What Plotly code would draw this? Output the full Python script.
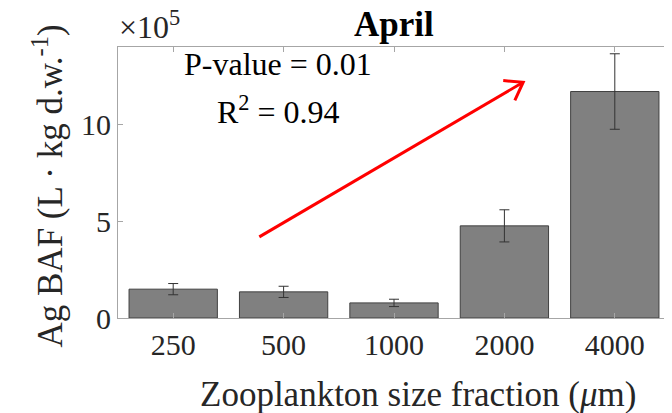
import math
import plotly.graph_objects as go

# ---- data ----
categories = ["250", "500", "1000", "2000", "4000"]
baf_values = [1.49, 1.35, 0.78, 4.76, 11.70]      # x 10^5 L/kg d.w.
baf_errors = [0.29, 0.29, 0.19, 0.83, 1.95]
y_ticks = [0, 5, 10]
arrow_tail = (0.78, 4.19)
arrow_head = (3.17, 12.18)
stats_lines = ["P-value = 0.01", "R<sup>2</sup> = 0.94"]
x_title = "Zooplankton size fraction (<i>μ</i>m)"
y_title = "Ag BAF (L · kg d.w.<sup>-1</sup>)"

FONT = "Liberation Serif, Times New Roman, serif"
# page has an 8px body margin, so figure is slightly smaller than the window
W, H = 664, 405
ML, MR, MT, MB = 110, 2, 39, 95
XR = [-0.5, 4.5]
YR = [0, 14]

xs = list(range(len(categories)))

fig = go.Figure()
fig.add_trace(go.Bar(
    x=xs, y=baf_values, width=0.8,
    marker=dict(color="#808080", line=dict(color="#404040", width=1)),
    error_y=dict(type="data", array=baf_errors, visible=True,
                 color="#333333", thickness=1, width=5),
    showlegend=False,
))

# arrow (line + open V head) computed from named endpoints
pxx = (W - ML - MR) / (XR[1] - XR[0])
pxy = (H - MT - MB) / (YR[1] - YR[0])
dx = (arrow_tail[0] - arrow_head[0]) * pxx
dy = (arrow_tail[1] - arrow_head[1]) * pxy
L = math.hypot(dx, dy)
ux, uy = dx / L, dy / L
arm = 20
pts = []
for ang in (math.radians(35), math.radians(-35)):
    rx = ux * math.cos(ang) - uy * math.sin(ang)
    ry = ux * math.sin(ang) + uy * math.cos(ang)
    pts.append((arrow_head[0] + rx * arm / pxx, arrow_head[1] + ry * arm / pxy))

shapes = [
    dict(type="line", xref="x", yref="y", x0=arrow_tail[0], y0=arrow_tail[1],
         x1=arrow_head[0], y1=arrow_head[1], line=dict(color="#ff0000", width=3)),
    dict(type="path", xref="x", yref="y",
         path=f"M {pts[0][0]},{pts[0][1]} L {arrow_head[0]},{arrow_head[1]} L {pts[1][0]},{pts[1][1]}",
         line=dict(color="#ff0000", width=3)),
]

annotations = [
    dict(text="<b>April</b>", xref="paper", yref="paper", x=0.5, y=1.0, yshift=23,
         xanchor="center", yanchor="middle",
         showarrow=False, font=dict(family=FONT, size=35, color="#000000")),
    dict(text="×10<sup>5</sup>", xref="paper", yref="paper", x=0.0, y=1.0,
         xanchor="left", yanchor="bottom", yshift=0, xshift=-1, showarrow=False,
         font=dict(family=FONT, size=32, color="#262626")),
    dict(text=stats_lines[0], xref="x", yref="y", x=0.95, y=13.1, showarrow=False,
         font=dict(family=FONT, size=32, color="#000000")),
    dict(text=stats_lines[1], xref="x", yref="y", x=0.95, y=10.75, showarrow=False,
         font=dict(family=FONT, size=32, color="#000000")),
    dict(text=x_title, xref="paper", yref="paper", x=0.5435, y=0.0,
         xanchor="center", yanchor="middle", yshift=-76, showarrow=False,
         font=dict(family=FONT, size=35, color="#262626")),
    dict(text=y_title, xref="paper", yref="paper", x=0.0, y=0.5, textangle=-90,
         xanchor="center", yanchor="middle", xshift=-70, yshift=-4, showarrow=False,
         font=dict(family=FONT, size=35, color="#262626")),
]

axis_common = dict(
    showline=True, linecolor="#a6a6a6", linewidth=1, mirror="ticks",
    ticks="inside", ticklen=5, tickcolor="#a6a6a6", showgrid=False, zeroline=False,
    tickfont=dict(family=FONT, size=30, color="#262626"),
)

fig.update_layout(
    width=W, height=H,
    margin=dict(l=ML, r=MR, t=MT, b=MB),
    paper_bgcolor="white", plot_bgcolor="white",
    font=dict(family=FONT, color="#262626"),
    xaxis=dict(range=XR, tickvals=xs, ticktext=categories, **axis_common),
    yaxis=dict(range=YR, tickvals=y_ticks, **axis_common),
    shapes=shapes, annotations=annotations, bargap=0.2,
)

fig.write_html("out.html")
